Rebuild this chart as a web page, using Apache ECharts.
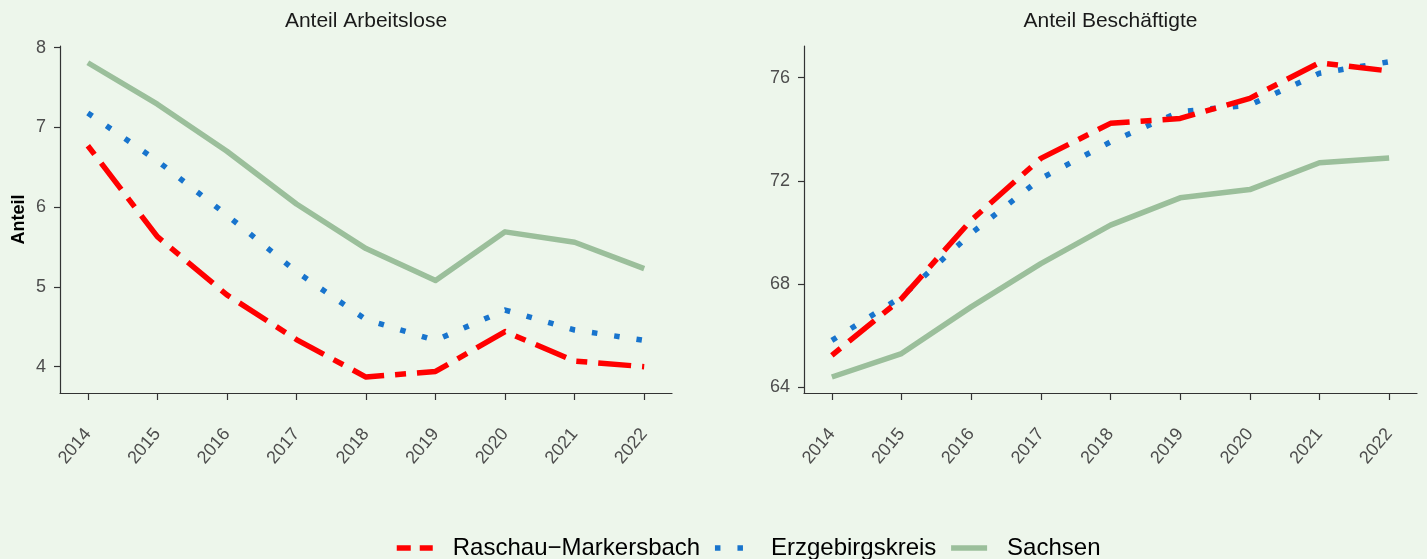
<!DOCTYPE html>
<html>
<head>
<meta charset="utf-8">
<script src="https://cdn.jsdelivr.net/npm/echarts@6/dist/echarts.min.js"></script>
<style>
html,body{margin:0;padding:0;background:#EDF6EB;}
#chart{width:1427px;height:559px;}
</style>
</head>
<body>
<div id="chart"></div>
<script>
// ---- data ----
const years = [2014, 2015, 2016, 2017, 2018, 2019, 2020, 2021, 2022];
const seriesNames = ['Raschau\u2212Markersbach', 'Erzgebirgskreis', 'Sachsen'];
const panelTitles = ['Anteil Arbeitslose', 'Anteil Besch\u00e4ftigte'];
const yAxisTitle = 'Anteil';

const arbeitsloseRaschau  = [6.77, 5.63, 4.90, 4.34, 3.87, 3.94, 4.44, 4.07, 4.00];
const arbeitsloseErz      = [7.18, 6.58, 5.90, 5.19, 4.59, 4.33, 4.71, 4.46, 4.33];
const arbeitsloseSachsen  = [7.81, 7.29, 6.70, 6.04, 5.48, 5.08, 5.69, 5.56, 5.23];

const beschRaschau  = [65.23, 67.43, 70.47, 72.87, 74.23, 74.42, 75.20, 76.58, 76.26];
const beschErz      = [65.81, 67.50, 69.96, 72.09, 73.51, 74.68, 74.94, 76.17, 76.62];
const beschSachsen  = [64.39, 65.30, 67.11, 68.79, 70.28, 71.34, 71.66, 72.70, 72.89];

const leftTicks  = [4, 5, 6, 7, 8];
const rightTicks = [64, 68, 72, 76];

// ---- styles ----
const FONT = '"Liberation Sans", Arial, Helvetica, sans-serif';
const colors = ['#FF0000', '#1874CD', '#9BBF9B'];
const dashes = [[11, 11, 33, 11], [5.5, 17], 'solid'];
const legendDashes = [[14, 9], [5.5, 17], 'solid'];
const LW = 5.5;

function pair(xs, ys) { return xs.map((x, i) => [x, ys[i]]); }

function xAxisCfg(gridIndex) {
  return {
    type: 'value', gridIndex, min: 2013.6, max: 2022.4,
    axisLine: { show: true, lineStyle: { color: '#333333', width: 1.2 } },
    axisTick: { show: true, customValues: years, length: 7, lineStyle: { color: '#333333', width: 1.2 } },
    axisLabel: {
      customValues: years, rotate: 50, margin: 38,
      color: '#4D4D4D', fontSize: 18, fontFamily: FONT,
      formatter: v => String(v)
    },
    splitLine: { show: false }
  };
}
function yAxisCfg(gridIndex, min, max, ticks, name) {
  return {
    type: 'value', gridIndex, min, max,
    name: name || '', nameLocation: 'middle', nameGap: 32, nameRotate: 90,
    nameTextStyle: { fontWeight: 'bold', fontSize: 18, color: '#000', fontFamily: FONT },
    axisLine: { show: true, lineStyle: { color: '#333333', width: 1.2 } },
    axisTick: { show: true, customValues: ticks, length: 6, lineStyle: { color: '#333333', width: 1.2 } },
    axisLabel: {
      customValues: ticks, margin: 14,
      color: '#4D4D4D', fontSize: 18, fontFamily: FONT,
      formatter: v => String(v)
    },
    splitLine: { show: false }
  };
}

const leftData  = [arbeitsloseRaschau, arbeitsloseErz, arbeitsloseSachsen];
const rightData = [beschRaschau, beschErz, beschSachsen];

const series = [];
[0, 1].forEach(g => {
  const d = g === 0 ? leftData : rightData;
  [2, 1, 0].forEach(k => {
    series.push({
      type: 'line', name: seriesNames[k],
      xAxisIndex: g, yAxisIndex: g,
      data: pair(years, d[k]),
      symbol: 'none', showSymbol: false, silent: true, animation: false,
      z: 10 - k,
      lineStyle: { color: colors[k], width: LW, type: dashes[k], cap: 'butt', join: 'round' },
      itemStyle: { color: colors[k] }
    });
  });
});

const chart = echarts.init(document.getElementById('chart'), null, { renderer: 'canvas' });
chart.setOption({
  backgroundColor: '#EDF6EB',
  animation: false,
  grid: [
    { left: 60, right: 755, top: 46, bottom: 166, containLabel: false },
    { left: 804, right: 10, top: 46, bottom: 166, containLabel: false }
  ],
  xAxis: [xAxisCfg(0), xAxisCfg(1)],
  yAxis: [yAxisCfg(0, 3.67, 8.02, leftTicks, yAxisTitle), yAxisCfg(1, 63.77, 77.23, rightTicks)],
  legend: {
    left: 389, top: 531,
    itemWidth: 36, itemHeight: 20, itemGap: 12,
    itemStyle: { opacity: 0 },
    textStyle: { fontSize: 24, color: '#000', fontFamily: FONT, padding: [0, 0, 0, 15] },
    data: seriesNames.map((n, k) => ({
      name: n,
      itemStyle: { opacity: 0 },
      lineStyle: { color: colors[k], width: LW, type: legendDashes[k], cap: 'butt' }
    })),
    selectedMode: false
  },
  graphic: [
    { type: 'text', x: 366, y: 21, style: { text: panelTitles[0], font: '21px ' + FONT, fill: '#1a1a1a', textAlign: 'center', textVerticalAlign: 'middle' } },
    { type: 'text', x: 1110.5, y: 21, style: { text: panelTitles[1], font: '21px ' + FONT, fill: '#1a1a1a', textAlign: 'center', textVerticalAlign: 'middle' } }
  ],
  series
});
</script>
</body>
</html>
